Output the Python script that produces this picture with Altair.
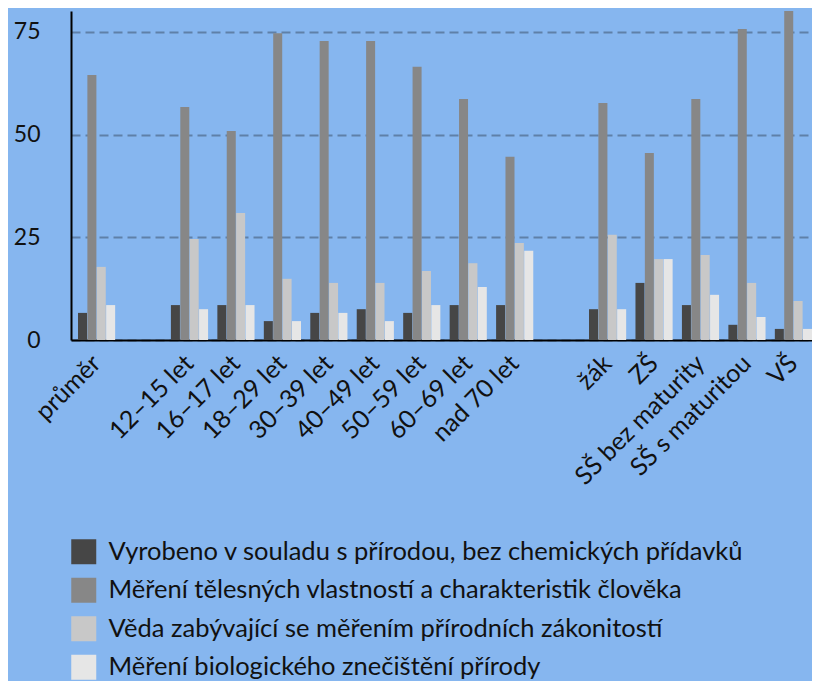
import altair as alt
import pandas as pd

categories = ["průměr", " ", "12–15 let", "16–17 let", "18–29 let", "30–39 let",
              "40–49 let", "50–59 let", "60–69 let", "nad 70 let", "  ",
              "žák", "ZŠ", "SŠ bez maturity", "SŠ s maturitou", "VŠ"]
groups = ["průměr", "12–15 let", "16–17 let", "18–29 let", "30–39 let",
          "40–49 let", "50–59 let", "60–69 let", "nad 70 let",
          "žák", "ZŠ", "SŠ bez maturity", "SŠ s maturitou", "VŠ"]

series = ["Vyrobeno v souladu s přírodou, bez chemických přídavků",
          "Měření tělesných vlastností a charakteristik člověka",
          "Věda zabývající se měřením přírodních zákonitostí",
          "Měření biologického znečištění přírody"]

s1 = [6.6, 8.5, 8.5, 4.6, 6.6, 7.5, 6.6, 8.5, 8.5, 7.5, 13.9, 8.5, 3.7, 2.7]
s2 = [64.5, 56.7, 50.9, 74.7, 72.8, 72.8, 66.5, 58.7, 44.6, 57.7, 45.5, 58.7, 75.7, 80.1]
s3 = [17.8, 24.6, 30.9, 14.9, 13.9, 13.9, 16.8, 18.7, 23.6, 25.6, 19.7, 20.7, 13.9, 9.5]
s4 = [8.5, 7.5, 8.5, 4.6, 6.6, 4.6, 8.5, 12.9, 21.7, 7.5, 19.7, 11.0, 5.6, 2.7]

colors = ["#464646", "#878787", "#c8c8c8", "#e6e6e6"]
y_ticks = [0, 25, 50, 75]

rows = []
for name, vals in zip(series, [s1, s2, s3, s4]):
    for g, v in zip(groups, vals):
        rows.append({"kategorie": g, "serie": name, "hodnota": v})
df = pd.DataFrame(rows)

FONT = "Lato"

chart = alt.Chart(df).mark_bar().encode(
    x=alt.X("kategorie:N",
            scale=alt.Scale(domain=categories, paddingInner=0.2, paddingOuter=0.0753,
                            align=1),
            axis=alt.Axis(title=None, labelAngle=-45, labelAlign="right",
                          labelBaseline="middle", labelPadding=19, labelFontSize=25,
                          labelFont=FONT, labelColor="#111111", ticks=False,
                          domainColor="#000000", domainWidth=2, grid=False,
                          labelOverlap=False, labelLimit=400)),
    xOffset=alt.XOffset("serie:N", scale=alt.Scale(domain=series, paddingInner=0.04)),
    y=alt.Y("hodnota:Q",
            scale=alt.Scale(domain=[0, 80.1], nice=False, zero=True),
            axis=alt.Axis(title=None, values=y_ticks, labelFontSize=23,
                          labelFont=FONT, labelColor="#111111", ticks=False,
                          labelPadding=31, domainColor="#000000", domainWidth=2,
                          grid=True, gridColor="#5f80a8", gridWidth=2,
                          gridDash=[9, 5])),
    color=alt.Color("serie:N",
                    scale=alt.Scale(domain=series, range=colors),
                    legend=alt.Legend(title=None, orient="none", legendX=0, legendY=528,
                                      direction="vertical", symbolType="square",
                                      symbolSize=625, symbolStrokeWidth=0,
                                      labelFontSize=25.5, labelFont=FONT,
                                      labelColor="#111111", labelLimit=900,
                                      labelOffset=12, rowPadding=11.5, padding=0)),
).properties(
    width=741,
    height=329,
    background="#86b6ef",
    autosize=alt.AutoSizeParams(type="none"),
    padding={"left": 63, "top": 3, "right": 0, "bottom": 360},
).configure_view(stroke=None)

chart.save("out.html", embed_options={"renderer": "svg", "actions": False})
